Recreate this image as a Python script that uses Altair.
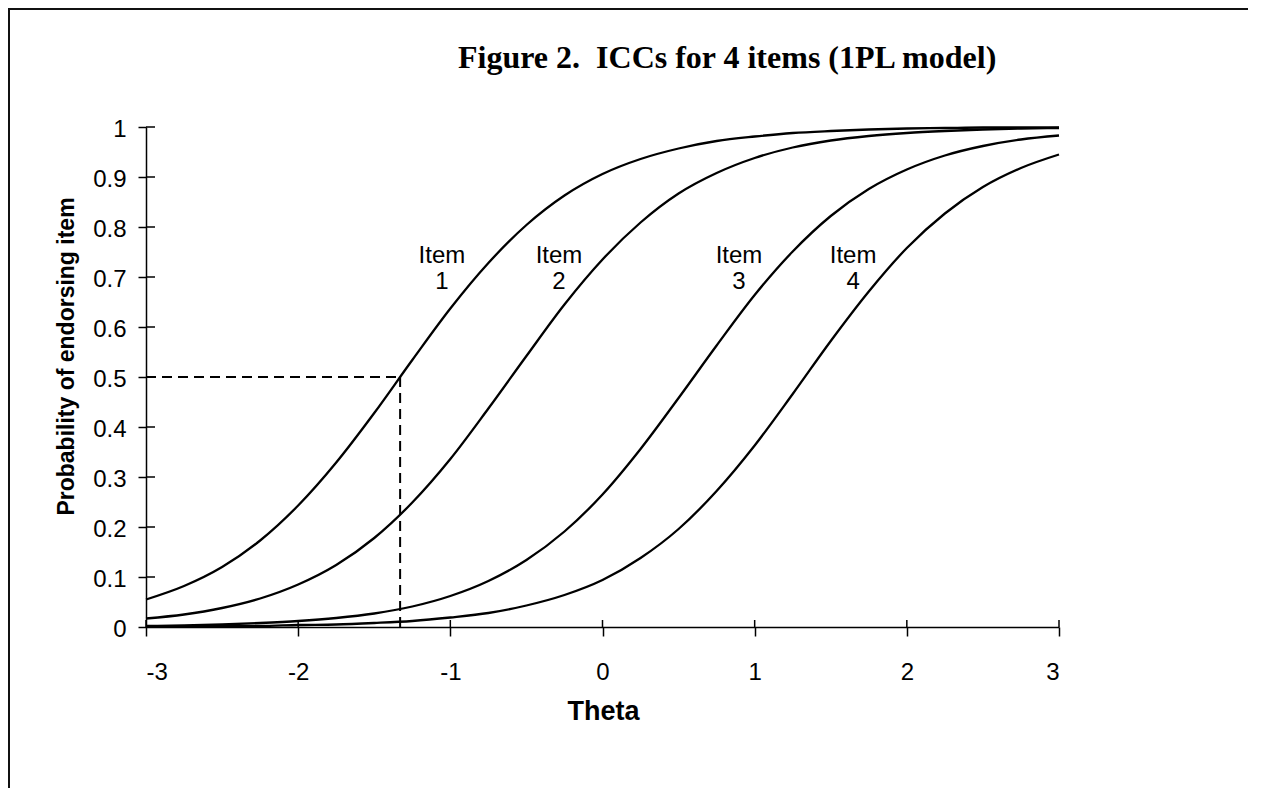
import altair as alt
import pandas as pd

# ---- data ----
theta = [-3.0, -2.75, -2.5, -2.25, -2.0, -1.75, -1.5, -1.25, -1.0, -0.75, -0.5, -0.25,
         0.0, 0.25, 0.5, 0.75, 1.0, 1.25, 1.5, 1.75, 2.0, 2.25, 2.5, 2.75, 3.0]
item1 = [0.055, 0.082, 0.120, 0.173, 0.243, 0.329, 0.428, 0.534, 0.637, 0.728, 0.804, 0.863,
         0.906, 0.936, 0.957, 0.972, 0.981, 0.988, 0.992, 0.995, 0.997, 0.998, 0.999, 0.999, 0.999]
item2 = [0.017, 0.025, 0.038, 0.057, 0.085, 0.124, 0.178, 0.249, 0.336, 0.437, 0.542, 0.645,
         0.735, 0.809, 0.867, 0.908, 0.938, 0.959, 0.973, 0.982, 0.988, 0.992, 0.995, 0.997, 0.998]
item3 = [0.002, 0.003, 0.005, 0.008, 0.012, 0.018, 0.027, 0.041, 0.062, 0.092, 0.134, 0.191,
         0.265, 0.356, 0.458, 0.563, 0.664, 0.751, 0.822, 0.876, 0.915, 0.943, 0.962, 0.975, 0.983]
item4 = [0.001, 0.001, 0.002, 0.002, 0.004, 0.005, 0.008, 0.012, 0.019, 0.028, 0.043, 0.064,
         0.094, 0.138, 0.196, 0.272, 0.363, 0.466, 0.572, 0.671, 0.758, 0.827, 0.880, 0.918, 0.945]
item_names = ["Item 1", "Item 2", "Item 3", "Item 4"]

x_ticks = [-3, -2, -1, 0, 1, 2, 3]
y_ticks = [0, 0.1, 0.2, 0.3, 0.4, 0.5, 0.6, 0.7, 0.8, 0.9, 1]

label_word = "Item"
label_numbers = ["1", "2", "3", "4"]
label_theta = [-1.055, -0.286, 0.897, 1.647]
label_p_word = 0.742
label_p_number = 0.69

dashed_theta = -1.33
dashed_p = 0.5

title_text = "Figure 2.\u00a0 ICCs for 4 items (1PL model)"
x_title = "Theta"
y_title = "Probability of endorsing item"

# ---- layout ----
W, H = 913, 500
PAD = {"left": 138, "top": 119, "right": 189, "bottom": 161}
SANS = "Liberation Sans"
SERIF = "Liberation Serif"

curves = pd.DataFrame({
    "theta": theta * 4,
    "p": item1 + item2 + item3 + item4,
    "item": sum([[n] * len(theta) for n in item_names], []),
})

labels = pd.DataFrame({
    "theta": label_theta + label_theta,
    "p": [label_p_word] * 4 + [label_p_number] * 4,
    "t": [label_word] * 4 + label_numbers,
})

xscale = alt.Scale(domain=[-3, 3], nice=False, zero=False)
yscale = alt.Scale(domain=[0, 1], nice=False)

xaxis = alt.Axis(values=x_ticks, labelExpr="'' + datum.value", grid=False,
                 tickSize=9, tickWidth=1.5, tickColor="black",
                 domainColor="black", domainWidth=1.5,
                 labelFont=SANS, labelFontSize=24, labelColor="black", labelPadding=24,
                 title=x_title, titleFont=SANS, titleFontSize=27, titleFontWeight="bold",
                 titleColor="black", titleX=457, titleY=92, titleBaseline="alphabetic",
                 titleAlign="center")
yaxis = alt.Axis(values=y_ticks, labelExpr="'' + datum.value", grid=False,
                 tickSize=8, tickWidth=1.5, tickColor="black",
                 domainColor="black", domainWidth=1.5,
                 labelFont=SANS, labelFontSize=24, labelColor="black", labelPadding=12,
                 labelOffset=2,
                 title=y_title, titleFont=SANS, titleFontSize=23, titleFontWeight="bold",
                 titleColor="black", titleX=-73, titleY=229, titleAngle=270,
                 titleBaseline="alphabetic", titleAlign="center")

xenc = alt.X("theta:Q", scale=xscale, axis=xaxis)
yenc = alt.Y("p:Q", scale=yscale, axis=yaxis)

lines = alt.Chart(curves).mark_line(interpolate="monotone", strokeWidth=2.3, color="black").encode(
    x=xenc, y=yenc, detail="item:N")

dash_h = alt.Chart(pd.DataFrame({"theta": [-3], "theta2": [dashed_theta], "p": [dashed_p]})).mark_rule(
    strokeDash=[10, 6], strokeWidth=2, color="black").encode(x=xenc, x2="theta2:Q", y=yenc)
dash_v = alt.Chart(pd.DataFrame({"theta": [dashed_theta], "p": [0], "p2": [dashed_p]})).mark_rule(
    strokeDash=[10, 6], strokeWidth=2, color="black").encode(x=xenc, y=yenc, y2="p2:Q")

xtick_in = alt.Chart(pd.DataFrame({"theta": x_ticks})).mark_rule(strokeWidth=1.5, color="black").encode(
    x=xenc, y=alt.value(H - 7), y2=alt.value(H))
ytick_in = alt.Chart(pd.DataFrame({"p": y_ticks})).mark_rule(strokeWidth=1.5, color="black").encode(
    y=yenc, x=alt.value(0), x2=alt.value(9))

item_labels = alt.Chart(labels).mark_text(font=SANS, fontSize=24, color="black",
                                          align="center", baseline="middle").encode(
    x=xenc, y=yenc, text="t:N")

one = pd.DataFrame({"t": [title_text]})
title = alt.Chart(one).mark_text(font=SERIF, fontSize=32, fontWeight="bold", color="black",
                                 align="left", baseline="alphabetic").encode(
    x=alt.value(312), y=alt.value(-59), text="t:N")

frame_top = alt.Chart(one).mark_rule(color="#111111", strokeWidth=2).encode(
    x=alt.value(-138), x2=alt.value(W + PAD["right"]), y=alt.value(-118))
frame_left = alt.Chart(one).mark_rule(color="#111111", strokeWidth=2).encode(
    x=alt.value(-137), y=alt.value(-119), y2=alt.value(H + PAD["bottom"]))

chart = alt.layer(
    frame_top, frame_left, title, lines, dash_h, dash_v, xtick_in, ytick_in, item_labels
).properties(
    width=W, height=H, padding=PAD, autosize=alt.AutoSizeParams(type="none"),
    background="white"
).configure_view(stroke=None)

chart.save("out.html", embed_options={"renderer": "svg", "actions": False})
